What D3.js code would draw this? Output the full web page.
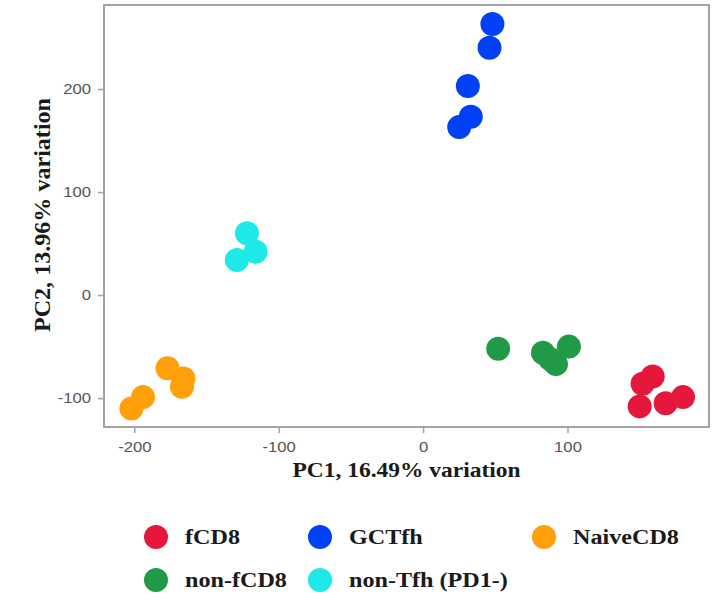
<!DOCTYPE html>
<html>
<head>
<meta charset="utf-8">
<script src="https://cdn.jsdelivr.net/npm/d3@7"></script>
<style>
  body { margin: 0; background: #fff; }
</style>
</head>
<body>
<script>
// groups and their colours
var groups = ['fCD8', 'GCTfh', 'NaiveCD8', 'non-fCD8', 'non-Tfh (PD1-)']
var colors = ['#e5173a', '#0041f5', '#ffa00a', '#219a48', '#1ee8e8']

// PCA scores, one list per group
var pc1_fCD8 = [159, 152, 150, 168, 180]
var pc2_fCD8 = [-79, -86, -108, -105, -99]
var pc1_GCTfh = [48, 46, 31, 33, 25]
var pc2_GCTfh = [263, 240, 203, 173, 163]
var pc1_Naive = [-177, -166, -167, -194, -202]
var pc2_Naive = [-71, -81, -89, -99, -110]
var pc1_nonfCD8 = [52, 83, 88, 92, 101]
var pc2_nonfCD8 = [-52, -56, -62, -67, -50]
var pc1_nonTfh = [-122, -116, -129]
var pc2_nonTfh = [60, 42, 34]

var xTicks = [-200, -100, 0, 100]
var yTicks = [-100, 0, 100, 200]

var W = 722, H = 598
var panel = {left: 104, top: 5, right: 709, bottom: 427}
var STRETCH = 1.15   // the picture is a bit wider than tall

function points(xs, ys, g){
  return xs.map(function(x, i){ return {x: x, y: ys[i], g: g} })
}

var data = [].concat(
  points(pc1_fCD8, pc2_fCD8, 0),
  points(pc1_GCTfh, pc2_GCTfh, 1),
  points(pc1_Naive, pc2_Naive, 2),
  points(pc1_nonfCD8, pc2_nonfCD8, 3),
  points(pc1_nonTfh, pc2_nonTfh, 4)
)

var svg = d3.select('body').append('svg')
  .attr('width', W).attr('height', H)

var x = d3.scaleLinear().domain([-221, 198]).range([panel.left, panel.right])
var y = d3.scaleLinear().domain([-128, 281.5]).range([panel.bottom, panel.top])

var AXIS_GREY = '#a3a3a3'
var TICK_TEXT = '#555'
var fmt = function(d){ return String(d) }   // plain hyphen for negatives

// border
svg.append('rect')
  .attr('x', panel.left).attr('y', panel.top)
  .attr('width', panel.right - panel.left)
  .attr('height', panel.bottom - panel.top)
  .attr('fill', 'none').attr('stroke', AXIS_GREY).attr('stroke-width', 2)

var xAxis = svg.append('g')
  .attr('transform', 'translate(0,' + panel.bottom + ')')
  .call(d3.axisBottom(x).tickValues(xTicks).tickFormat(fmt).tickSize(6).tickPadding(9))
var yAxis = svg.append('g')
  .attr('transform', 'translate(' + panel.left + ',0)')
  .call(d3.axisLeft(y).tickValues(yTicks).tickFormat(fmt).tickSize(6).tickPadding(7))

;[xAxis, yAxis].forEach(function(a){
  a.select('.domain').remove()
  a.selectAll('line').attr('stroke', AXIS_GREY).attr('stroke-width', 1.5)
  a.selectAll('text')
    .attr('fill', TICK_TEXT)
    .attr('font-family', "'Liberation Sans', Arial, sans-serif")
    .attr('font-size', '14.5px')
})
xAxis.selectAll('text').attr('transform', 'scale(' + STRETCH + ',1)')
yAxis.selectAll('text').attr('transform', 'translate(-13,0) scale(' + STRETCH + ',1) translate(13,0)')

svg.append('g').selectAll('circle')
  .data(data)
  .enter()
  .append('circle')
  .attr('cx', function(d){ return x(d.x) })
  .attr('cy', function(d){ return y(d.y) })
  .attr('r', 12)
  .attr('fill', function(d){ return colors[d.g] })

var titleFont = "'Liberation Serif', 'Times New Roman', serif"

svg.append('text')
  .text('PC1, 16.49% variation')
  .attr('x', (panel.left + panel.right) / 2)
  .attr('y', 477)
  .attr('text-anchor', 'middle')
  .attr('textLength', 228)
  .attr('lengthAdjust', 'spacingAndGlyphs')
  .attr('font-family', titleFont)
  .attr('font-weight', 'bold')
  .attr('font-size', '21px')
  .attr('fill', '#1a1a1a')

svg.append('text')
  .text('PC2, 13.96% variation')
  .attr('transform', 'translate(50,' + ((panel.top + panel.bottom) / 2 - 1) + ') rotate(-90)')
  .attr('text-anchor', 'middle')
  .attr('textLength', 234)
  .attr('lengthAdjust', 'spacingAndGlyphs')
  .attr('font-family', titleFont)
  .attr('font-weight', 'bold')
  .attr('font-size', '24px')
  .attr('fill', '#1a1a1a')

// legend, 3 per row
var legendX = [156, 320, 544]
var legendY = [537, 580]
var legend = svg.append('g').selectAll('g')
  .data(groups)
  .enter()
  .append('g')
  .attr('transform', function(d, i){
    return 'translate(' + legendX[i % 3] + ',' + legendY[Math.floor(i / 3)] + ')'
  })

legend.append('circle')
  .attr('r', 12)
  .attr('fill', function(d, i){ return colors[i] })

legend.append('text')
  .text(function(d){ return d })
  .attr('transform', 'translate(29,7) scale(' + STRETCH + ',1)')
  .attr('font-family', titleFont)
  .attr('font-weight', 'bold')
  .attr('font-size', '21px')
  .attr('fill', '#1a1a1a')
</script>
</body>
</html>
